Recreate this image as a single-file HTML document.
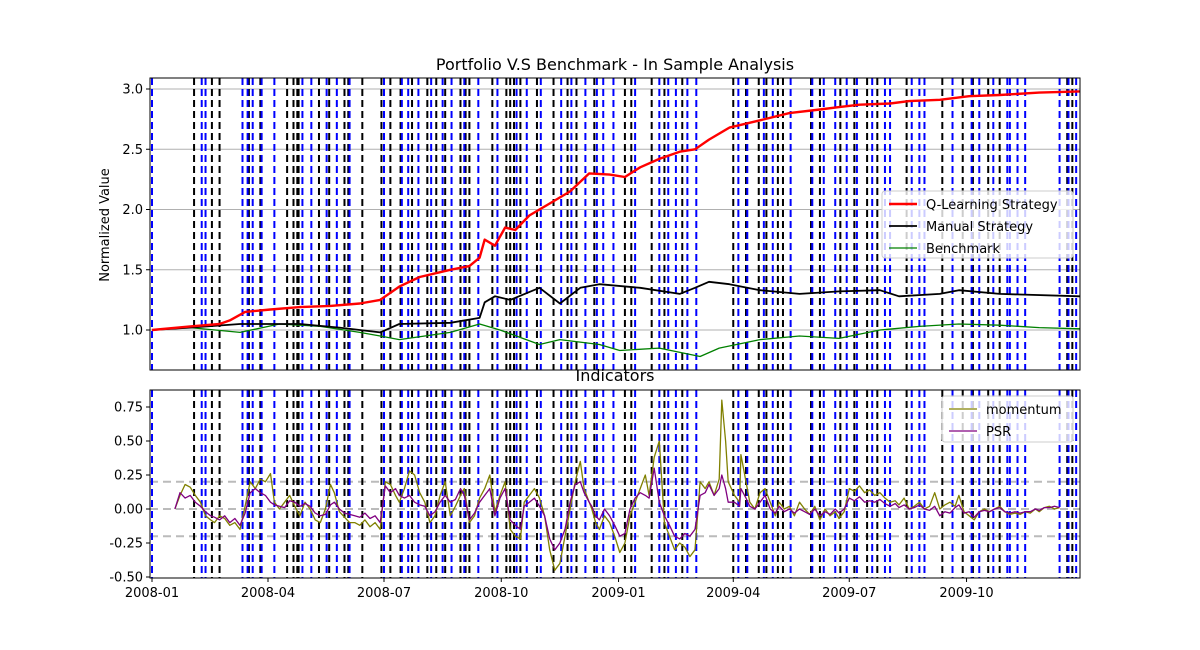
<!DOCTYPE html>
<html><head><meta charset="utf-8"><style>
body{margin:0;background:#fff;}
svg{display:block;font-family:"DejaVu Sans","Liberation Sans",sans-serif;}
</style></head><body>
<svg id="chart" width="1200" height="650"></svg>
<script>
// days since 2008-01-01
const buyDays=[0,39,42,71,75,79,86,96,118,125,137,145,155,182,196,201,209,219,228,235,245,256,271,286,294,305,321,329,340,349,354,362,379,398,405,411,420,427,460,467,480,487,501,518,527,536,545,553,565,575,579,596,602,606,628,643,649,660,671,673,679,685,712,719,725];
const sellDays=[33,47,53,76,85,106,111,114,115,131,139,151,154,165,180,187,195,204,216,223,230,242,246,249,267,278,281,284,289,302,315,326,333,347,371,376,392,402,416,456,466,476,482,491,495,517,524,540,551,561,569,592,620,636,644,656,665,718,722];
const qDays=[0,30,53,61,73,93,116,140,163,179,194,210,234,249,257,261,269,277,285,296,312,328,343,359,371,383,398,414,426,437,453,477,500,524,539,555,579,594,618,641,665,696,728];
const qVals=[1.0,1.03,1.05,1.08,1.15,1.17,1.19,1.20,1.22,1.25,1.36,1.44,1.50,1.53,1.60,1.75,1.70,1.85,1.83,1.95,2.05,2.15,2.30,2.29,2.27,2.35,2.42,2.48,2.50,2.58,2.68,2.74,2.80,2.83,2.85,2.87,2.88,2.90,2.91,2.94,2.95,2.97,2.98];
const mDays=[0,30,69,116,147,179,194,234,257,261,269,281,304,320,336,351,383,414,426,437,453,477,508,539,571,586,618,633,665,728];
const mVals=[1.0,1.02,1.05,1.05,1.02,0.98,1.05,1.06,1.10,1.23,1.28,1.25,1.35,1.22,1.35,1.38,1.35,1.30,1.35,1.40,1.38,1.33,1.30,1.32,1.33,1.28,1.30,1.33,1.30,1.28];
const bDays=[0,30,69,100,132,163,179,194,234,257,273,304,320,351,367,398,430,445,477,508,539,571,602,633,665,696,728];
const bVals=[1.0,1.02,0.98,1.05,1.03,0.98,0.95,0.92,0.98,1.05,1.0,0.88,0.92,0.88,0.83,0.85,0.78,0.85,0.92,0.95,0.93,1.00,1.03,1.05,1.04,1.02,1.01];
const iDays=[18,22,26,30,34,38,42,46,49,53,57,61,65,69,73,77,81,85,89,93,96,100,104,108,112,116,120,124,128,132,136,140,143,147,151,155,159,163,167,171,175,179,183,187,191,194,198,202,206,210,214,218,222,226,230,234,238,242,245,249,253,257,261,265,269,273,277,281,285,289,292,296,300,304,308,312,316,320,324,328,332,336,339,343,345,348,351,355,359,363,367,371,375,379,383,387,390,394,398,402,406,410,414,418,422,426,430,434,437,441,445,447,450,452,457,461,462,466,469,473,477,481,485,489,492,496,500,504,508,512,516,520,524,528,532,536,539,543,547,551,555,559,563,567,571,575,579,583,586,590,594,598,602,606,610,614,618,622,626,630,633,637,641,645,649,653,657,661,665,669,673,677,681,685,689,693,696,700,704,708,712,716,720,724,728];
const momVals=[0.0,0.1,0.18,0.16,0.1,0.05,-0.05,-0.08,-0.1,-0.05,-0.07,-0.12,-0.1,-0.15,0.02,0.2,0.15,0.22,0.2,0.26,0.05,0.0,0.05,0.1,0.02,-0.05,0.05,0.0,-0.08,-0.1,0.0,0.18,0.12,-0.02,-0.06,-0.1,-0.1,-0.12,-0.08,-0.13,-0.1,-0.15,0.2,0.18,0.1,0.05,0.15,0.28,0.25,0.12,0.05,-0.1,-0.05,0.1,0.2,-0.05,0.02,0.1,0.15,-0.1,-0.05,0.08,0.15,0.25,-0.02,0.1,0.2,-0.15,-0.2,-0.22,0.05,0.1,0.15,0.08,-0.05,-0.3,-0.45,-0.4,-0.2,0.0,0.2,0.35,0.15,0.05,0.0,-0.1,-0.15,-0.05,-0.1,-0.2,-0.32,-0.25,-0.05,0.05,0.15,0.25,0.1,0.38,0.5,-0.1,-0.2,-0.3,-0.25,-0.28,-0.35,-0.3,0.2,0.15,0.2,0.1,0.22,0.8,0.5,0.2,0.1,0.05,0.4,0.2,0.05,0.0,0.12,0.15,0.05,-0.05,0.05,0.0,0.02,-0.05,0.05,0.0,-0.04,0.02,-0.08,0.0,-0.05,-0.02,-0.07,-0.02,0.15,0.13,0.17,0.12,0.14,0.1,0.12,0.08,0.05,0.06,0.03,0.08,0.0,0.02,0.05,0.0,0.02,0.12,0.0,0.03,0.05,0.02,0.1,-0.02,-0.05,-0.08,-0.02,0.0,-0.02,0.0,0.02,-0.02,-0.04,-0.03,-0.04,-0.02,-0.03,0.0,-0.02,0.01,0.02,0.0,0.01];
const psrVals=[0.0,0.12,0.08,0.1,0.05,0.02,-0.02,-0.05,-0.06,-0.08,-0.05,-0.1,-0.07,-0.12,-0.03,0.12,0.15,0.12,0.1,0.05,0.03,0.02,0.01,0.06,0.05,0.02,0.04,0.02,-0.03,-0.05,-0.04,0.03,0.05,0.0,-0.03,-0.04,-0.05,-0.06,-0.03,-0.07,-0.05,-0.1,0.17,0.12,0.15,0.1,0.08,0.1,0.05,0.03,0.02,-0.05,-0.02,0.05,0.1,0.05,0.07,0.15,0.1,-0.08,-0.03,0.05,0.1,0.15,-0.05,0.08,0.15,-0.08,-0.12,-0.15,0.02,0.05,0.08,0.02,-0.05,-0.22,-0.3,-0.25,-0.15,0.05,0.18,0.2,0.12,0.05,0.02,-0.05,-0.08,0.0,-0.05,-0.12,-0.2,-0.18,0.0,0.08,0.12,0.1,0.08,0.3,0.05,-0.05,-0.12,-0.2,-0.22,-0.18,-0.2,-0.15,0.1,0.12,0.18,0.1,0.15,0.25,0.15,0.05,0.05,0.02,0.15,0.08,0.02,0.0,0.05,0.1,0.0,-0.03,0.02,-0.02,0.0,-0.03,0.0,-0.02,-0.04,0.0,-0.05,-0.02,-0.04,0.0,-0.03,0.0,0.08,0.06,0.09,0.05,0.06,0.05,0.07,0.04,0.02,0.04,0.01,0.03,0.0,0.01,0.03,0.0,-0.01,0.02,-0.05,-0.02,-0.03,0.01,0.03,-0.03,-0.02,-0.06,-0.02,-0.01,-0.02,0.0,0.01,-0.02,-0.03,-0.02,-0.03,-0.02,-0.02,0.0,-0.01,0.01,0.01,0.02,0.01];
const topTicks=[1.0,1.5,2.0,2.5,3.0];
const botTicks=[-0.5,-0.25,0.0,0.25,0.5,0.75];
const xTickDays=[0,91,182,274,366,456,547,639];
const xTickLabels=["2008-01","2008-04","2008-07","2008-10","2009-01","2009-04","2009-07","2009-10"];

const NS="http://www.w3.org/2000/svg";
const svg=document.getElementById('chart');
const L=150,R=1080,T1=78,B1=370,T2=390,B2=578;
const X=d=>152+d*1.2747;
const Y1=v=>330-(v-1)*120.5;
const Y2=v=>509-v*136;
function el(tag,attrs,parent){const e=document.createElementNS(NS,tag);for(const k in attrs)e.setAttribute(k,attrs[k]);(parent||svg).appendChild(e);return e;}
function txt(s,attrs){const e=el('text',attrs);e.textContent=s;return e;}
const defs=el('defs',{});
['c1','c2'].forEach((id,i)=>{const cp=el('clipPath',{id:id},defs);el('rect',{x:L,y:i?T2:T1,width:R-L,height:i?B2-T2:B1-T1},cp);});

function panel(top,bot,clip,nm){
  const g=el('g',{'clip-path':'url(#'+clip+')'});
  
  
  sellDays.forEach(d=>{const l=el('line',{x1:X(d),x2:X(d),y1:top,y2:bot,stroke:'#000','stroke-width':2,'stroke-dasharray':'7,4'},g);
    });
  buyDays.forEach(d=>{const l=el('line',{x1:X(d),x2:X(d),y1:top,y2:bot,stroke:'#0000ff','stroke-width':2,'stroke-dasharray':'7,4'},g);
    });
  return g;
}
function path(days,vals,Yf,color,w,clip,nm){
  const d=days.map((x,i)=>(i?'L':'M')+X(x).toFixed(1)+','+Yf(vals[i]).toFixed(1)).join('');
  const p=el('path',{d:d,fill:'none',stroke:color,'stroke-width':w,'clip-path':'url(#'+clip+')','stroke-linejoin':'round'});
  
}
// top panel
topTicks.forEach(v=>{const l=el('line',{x1:L,x2:R,y1:Y1(v),y2:Y1(v),stroke:'#b0b0b0','stroke-width':1});
  el('line',{x1:L-4,x2:L,y1:Y1(v),y2:Y1(v),stroke:'#000'});
  const t=txt(v.toFixed(1),{x:L-7,y:Y1(v)+4.5,'text-anchor':'end','font-size':13});});
panel(T1,B1,'c1','top');
path(bDays,bVals,Y1,'green',1.3,'c1','benchmark-line');
path(mDays,mVals,Y1,'#000',1.8,'c1','manual-strategy-line');
path(qDays,qVals,Y1,'red',2.4,'c1','q-learning-line');
let f=el('rect',{x:L,y:T1,width:R-L,height:B1-T1,fill:'none',stroke:'#000','stroke-width':1});
// bottom panel
[0.2,0,-0.2].forEach(v=>{const l=el('line',{x1:L,x2:R,y1:Y2(v),y2:Y2(v),stroke:'#bbb','stroke-width':2,'stroke-dasharray':'8,5'});});
panel(T2,B2,'c2','bottom');
path(iDays,momVals,Y2,'olive',1.3,'c2','momentum-line');
path(iDays,psrVals,Y2,'purple',1.3,'c2','psr-line');
botTicks.forEach(v=>{el('line',{x1:L-4,x2:L,y1:Y2(v),y2:Y2(v),stroke:'#000'});
  const t=txt(v.toFixed(2),{x:L-7,y:Y2(v)+4.5,'text-anchor':'end','font-size':13});});
xTickDays.forEach((d,i)=>{el('line',{x1:X(d),x2:X(d),y1:B2,y2:B2+4,stroke:'#000'});
  const t=txt(xTickLabels[i],{x:X(d),y:B2+19,'text-anchor':'middle','font-size':13});});
f=el('rect',{x:L,y:T2,width:R-L,height:B2-T2,fill:'none',stroke:'#000','stroke-width':1});
// titles
let t=txt('Portfolio V.S Benchmark - In Sample Analysis',{x:615,y:70,'text-anchor':'middle','font-size':16});
t=txt('Indicators',{x:615,y:381,'text-anchor':'middle','font-size':16});
t=txt('Normalized Value',{x:0,y:0,'text-anchor':'middle','font-size':13,transform:'translate(109,225) rotate(-90)'});
// legends
function legend(x,y,w,h,items,nm){
  const g=el('g',{});
  el('rect',{x:x,y:y,width:w,height:h,rx:3,fill:'rgba(255,255,255,0.8)',stroke:'#ccc'},g);
  items.forEach((it,i)=>{const yy=y+13+i*22;
    const l=el('line',{x1:x+7,x2:x+35,y1:yy,y2:yy,stroke:it[1],'stroke-width':it[2]},g);
    const tt=el('text',{x:x+44,y:yy+5,'font-size':13},g);tt.textContent=it[0];});
}
legend(882,191,191,67,[['Q-Learning Strategy','red',2.4],['Manual Strategy','#000',1.8],['Benchmark','green',1.3]],'top-legend');
legend(942,396,131,46,[['momentum','olive',1.3],['PSR','purple',1.3]],'bottom-legend');
</script>
</body></html>
